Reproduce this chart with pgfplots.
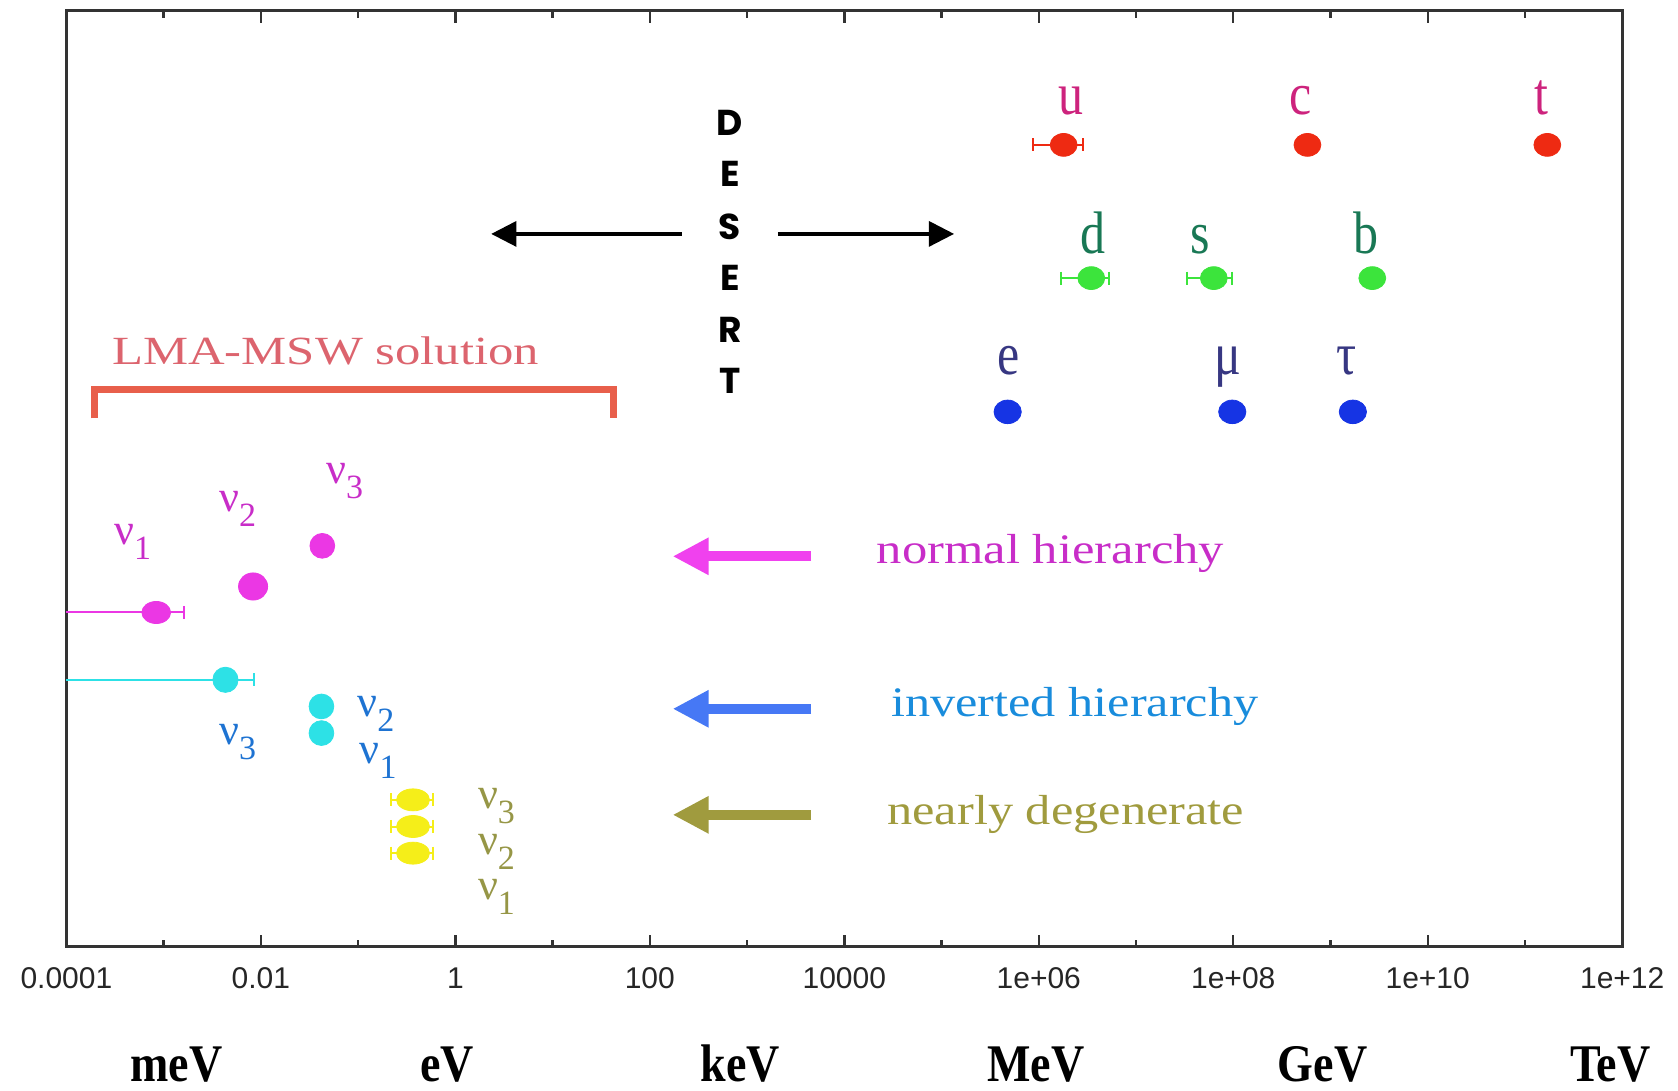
\documentclass[border=0pt]{standalone}
\usepackage{fontspec}
\setmainfont{Liberation Serif}
\newfontfamily\tickfont{Liberation Sans}
\newfontfamily\desertfont{Poppins}
\usepackage{graphicx}
\usepackage{pgfplots}
\pgfplotsset{compat=1.18}
\usetikzlibrary{arrows.meta}

\definecolor{qred}{RGB}{238,42,18}
\definecolor{ulab}{RGB}{205,35,125}
\definecolor{qgreen}{RGB}{60,228,60}
\definecolor{dlab}{RGB}{25,120,85}
\definecolor{lblue}{RGB}{22,52,228}
\definecolor{elab}{RGB}{55,55,130}
\definecolor{nhdot}{RGB}{235,55,228}
\definecolor{nhlab}{RGB}{200,45,200}
\definecolor{nharrow}{RGB}{240,65,238}
\definecolor{ihdot}{RGB}{45,225,230}
\definecolor{ihlab}{RGB}{30,115,210}
\definecolor{ihtext}{RGB}{25,140,220}
\definecolor{iharrow}{RGB}{70,120,245}
\definecolor{nddot}{RGB}{245,238,25}
\definecolor{ndlab}{RGB}{150,150,70}
\definecolor{ndarrow}{RGB}{160,155,62}
\definecolor{lmatext}{RGB}{220,100,110}
\definecolor{lmabr}{RGB}{232,95,75}

\newcommand{\nul}[1]{\fontsize{22}{22}\selectfont ν\raisebox{-7.5pt}{\fontsize{17}{17}\selectfont #1}}
\newcommand{\plab}[1]{\fontsize{25}{25}\selectfont\scalebox{1}[1.2]{#1}}
\newcommand{\unitlab}[1]{\fontsize{23}{23}\selectfont\bfseries\scalebox{1}[1.15]{#1}}
\newcommand{\dl}[1]{\desertfont\bfseries\fontsize{18}{18}\selectfont #1}

\begin{document}
\begin{tikzpicture}
\begin{axis}[
  at={(0,0)}, anchor=south west, scale only axis,
  width=778pt, height=468.2pt,
  xmin=-4, xmax=12, ymin=0, ymax=875,
  xtick={-4,-2,0,2,4,6,8,10,12},
  xticklabels={0.0001,0.01,1,100,10000,1e+06,1e+08,1e+10,1e+12},
  minor xtick={-3,-1,1,3,5,7,9,11},
  ytick=\empty,
  tick align=inside,
  major tick length=6pt, minor tick length=3.5pt,
  axis line style={line width=1.4pt, black!80},
  tick style={line width=1.2pt, black!80},
  xticklabel style={font=\tickfont\fontsize{15}{15}\selectfont, text=black!85, yshift=-7pt},
  clip=false,
]
% ---- quarks (up type) ----
\addplot[qred, line width=1pt, mark=|, mark size=3.3pt] coordinates {(5.937,749.5) (6.454,749.5)};
\addplot[only marks, mark=*, mark size=6pt, qred, mark options={xscale=1.12,yscale=0.95}] coordinates {(6.256,749.5) (8.763,749.5) (11.23,749.5)};
% ---- quarks (down type) ----
\addplot[qgreen, line width=1pt, mark=|, mark size=3.3pt] coordinates {(6.23,625) (6.72,625)};
\addplot[qgreen, line width=1pt, mark=|, mark size=3.3pt] coordinates {(7.52,625) (7.99,625)};
\addplot[only marks, mark=*, mark size=6pt, qgreen, mark options={xscale=1.12,yscale=0.95}] coordinates {(6.54,625) (7.80,625) (9.43,625)};
% ---- charged leptons ----
\addplot[only marks, mark=*, mark size=6.2pt, lblue, mark options={xscale=1.1,yscale=0.95}] coordinates {(5.68,500) (7.99,500) (9.23,500)};
% ---- normal hierarchy ----
\addplot[nhdot, line width=1pt, mark=|, mark size=3.3pt, mark indices={2}] coordinates {(-4,312.5) (-2.786,312.5)};
\addplot[only marks, mark=*, mark size=6pt, nhdot, mark options={xscale=1.2,yscale=0.92}] coordinates {(-3.076,312.5)};
\addplot[only marks, mark=*, mark size=6.8pt, nhdot, mark options={xscale=1.07}] coordinates {(-2.080,336.8)};
\addplot[only marks, mark=*, mark size=6.2pt, nhdot] coordinates {(-1.368,374.8)};
% ---- inverted hierarchy ----
\addplot[ihdot, line width=1pt, mark=|, mark size=3.3pt, mark indices={2}] coordinates {(-4,249.6) (-2.074,249.6)};
\addplot[only marks, mark=*, mark size=6.3pt, ihdot] coordinates {(-2.364,249.6)};
\addplot[only marks, mark=*, mark size=6.2pt, ihdot] coordinates {(-1.377,224.7) (-1.377,199.8)};
% ---- nearly degenerate ----
\addplot[nddot, line width=1pt, mark=|, mark size=3.3pt] coordinates {(-0.666,137.4) (-0.23,137.4)};
\addplot[nddot, line width=1pt, mark=|, mark size=3.3pt] coordinates {(-0.666,112.5) (-0.23,112.5)};
\addplot[nddot, line width=1pt, mark=|, mark size=3.3pt] coordinates {(-0.666,87.6) (-0.23,87.6)};
\addplot[only marks, mark=*, mark size=5.5pt, nddot, mark options={xscale=1.5}] coordinates {(-0.435,137.4) (-0.435,112.5) (-0.435,87.6)};
% ---- LMA-MSW bracket ----
\addplot[lmabr, line width=3.5pt, line join=miter, no marks] coordinates {(-3.714,494) (-3.714,520.6) (1.623,520.6) (1.623,494)};
% ---- desert arrows ----
\addplot[black, line width=1.7pt, no marks, -{Triangle[length=12.6pt,width=12.5pt]}] coordinates {(2.327,666.3) (0.369,666.3)};
\addplot[black, line width=1.7pt, no marks, -{Triangle[length=12.6pt,width=12.5pt]}] coordinates {(3.318,666.3) (5.129,666.3)};
% ---- hierarchy arrows ----
\addplot[nharrow, line width=5pt, no marks, -{Triangle[length=18pt,width=17.5pt]}] coordinates {(3.659,365) (2.235,365)};
\addplot[iharrow, line width=5pt, no marks, -{Triangle[length=18pt,width=17.5pt]}] coordinates {(3.659,222.5) (2.235,222.5)};
\addplot[ndarrow, line width=5pt, no marks, -{Triangle[length=18pt,width=17.5pt]}] coordinates {(3.659,123.4) (2.235,123.4)};

% ---- particle labels ----
\node[anchor=base, inner sep=0pt, text=ulab] at (axis cs:6.33,777.5) {\plab{u}};
\node[anchor=base, inner sep=0pt, text=ulab] at (axis cs:8.69,777.5) {\plab{c}};
\node[anchor=base, inner sep=0pt, text=ulab] at (axis cs:11.17,777.5) {\plab{t}};
\node[anchor=base, inner sep=0pt, text=dlab] at (axis cs:6.56,648.4) {\plab{d}};
\node[anchor=base, inner sep=0pt, text=dlab] at (axis cs:7.66,648.4) {\plab{s}};
\node[anchor=base, inner sep=0pt, text=dlab] at (axis cs:9.37,648.4) {\plab{b}};
\node[anchor=base, inner sep=0pt, text=elab] at (axis cs:5.69,535) {\plab{e}};
\node[anchor=base, inner sep=0pt, text=elab] at (axis cs:7.95,535) {\plab{μ}};
\node[anchor=base, inner sep=0pt, text=elab] at (axis cs:9.17,535) {\plab{τ}};
% ---- neutrino labels ----
\node[anchor=base west, inner sep=0pt, text=nhlab] at (axis cs:-3.511,376) {\nul{1}};
\node[anchor=base west, inner sep=0pt, text=nhlab] at (axis cs:-2.433,407) {\nul{2}};
\node[anchor=base west, inner sep=0pt, text=nhlab] at (axis cs:-1.331,433.4) {\nul{3}};
\node[anchor=base west, inner sep=0pt, text=ihlab] at (axis cs:-1.010,215.3) {\nul{2}};
\node[anchor=base west, inner sep=0pt, text=ihlab] at (axis cs:-0.987,171.7) {\nul{1}};
\node[anchor=base west, inner sep=0pt, text=ihlab] at (axis cs:-2.433,189) {\nul{3}};
\node[anchor=base west, inner sep=0pt, text=ndlab] at (axis cs:0.229,129.7) {\nul{3}};
\node[anchor=base west, inner sep=0pt, text=ndlab] at (axis cs:0.229,86) {\nul{2}};
\node[anchor=base west, inner sep=0pt, text=ndlab] at (axis cs:0.229,44) {\nul{1}};
% ---- texts ----
\node[anchor=base west, inner sep=0pt, text=nhlab] at (axis cs:4.332,358.6) {\fontsize{21}{21}\selectfont\scalebox{1.205}[1]{normal hierarchy}};
\node[anchor=base west, inner sep=0pt, text=ihtext] at (axis cs:4.480,215.3) {\fontsize{21}{21}\selectfont\scalebox{1.197}[1]{inverted hierarchy}};
\node[anchor=base west, inner sep=0pt, text=ndarrow] at (axis cs:4.439,114) {\fontsize{21}{21}\selectfont\scalebox{1.2}[1]{nearly degenerate}};
\node[anchor=base west, inner sep=0pt, text=lmatext] at (axis cs:-3.532,544) {\fontsize{20}{20}\selectfont\scalebox{1.268}[1]{LMA-MSW solution}};
% ---- DESERT ----
\node[inner sep=0pt] at (axis cs:2.823,770) {\dl{D}};
\node[inner sep=0pt] at (axis cs:2.823,722) {\dl{E}};
\node[inner sep=0pt] at (axis cs:2.823,673) {\dl{S}};
\node[inner sep=0pt] at (axis cs:2.823,625) {\dl{E}};
\node[inner sep=0pt] at (axis cs:2.823,577) {\dl{R}};
\node[inner sep=0pt] at (axis cs:2.823,529) {\dl{T}};
% ---- unit labels ----
\node[anchor=base, inner sep=0pt] at (axis cs:-2.867,-126) {\unitlab{meV}};
\node[anchor=base, inner sep=0pt] at (axis cs:-0.083,-126) {\unitlab{eV}};
\node[anchor=base, inner sep=0pt] at (axis cs:2.933,-126) {\unitlab{keV}};
\node[anchor=base, inner sep=0pt] at (axis cs:5.970,-126) {\unitlab{MeV}};
\node[anchor=base, inner sep=0pt] at (axis cs:8.919,-126) {\unitlab{GeV}};
\node[anchor=base, inner sep=0pt] at (axis cs:11.879,-126) {\unitlab{TeV}};
\end{axis}
\pgfresetboundingbox
\path[use as bounding box] (-33.2pt,-72pt) rectangle (805.9pt,473.5pt);
\end{tikzpicture}
\end{document}
